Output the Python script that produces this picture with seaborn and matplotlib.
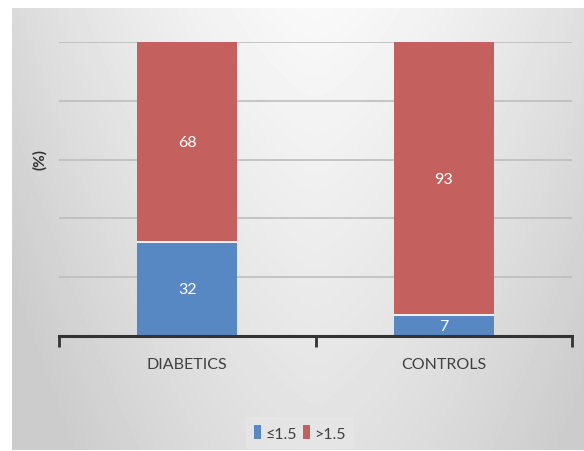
import numpy as np
import pandas as pd
import matplotlib
matplotlib.use("Agg")
import matplotlib.pyplot as plt
from matplotlib.patches import Patch
from matplotlib import font_manager
import seaborn as sns

# Share of patients by ratio group
groups = ["DIABETICS", "CONTROLS"]
low_share = [32, 7]      # ≤1.5
high_share = [68, 93]    # >1.5
legend_labels = ["≤1.5", ">1.5"]

BLUE = "#5788C4"
RED = "#C4615E"

sns.set_theme(style="white")
names = {f.name for f in font_manager.fontManager.ttflist}
font = "Lato" if "Lato" in names else "DejaVu Sans"
plt.rcParams["font.family"] = [font, "DejaVu Sans"]

W, H, DPI = 584, 452, 100
fig = plt.figure(figsize=(W / DPI, H / DPI), dpi=DPI)
fig.patch.set_facecolor("white")

# Gray backdrop, bright at the top centre and darker towards the sides and bottom
bw, bh = W - 12, H - 10
bg = fig.add_axes([12 / W, 1 / H, bw / W, bh / H])
bg.set_axis_off()
yy, xx = np.mgrid[0:bh, 0:bw]
hx = np.abs(xx - bw * 0.53) / (bw * 0.53)
vy = yy / bh
shade = 0.975 - 0.12 * hx ** 1.5 - 0.09 * vy
shade = np.clip(shade, 0.80, 0.98)
bg.imshow(shade, cmap="gray", vmin=0, vmax=1, aspect="auto",
          interpolation="bilinear", extent=[0, 1, 1, 0])
bg.set_xlim(0, 1)
bg.set_ylim(1, 0)

# Plot area
ax = fig.add_axes([59 / W, (H - 337) / H, (572 - 59) / W, (337 - 43) / H])
ax.patch.set_alpha(0)

df = pd.DataFrame({
    "group": groups,
    "low": low_share,
    "high": high_share,
})
df["total"] = df["low"] + df["high"]

sns.barplot(data=df, x="group", y="total", color=RED, saturation=1,
            width=0.39, ax=ax, edgecolor="none", zorder=2)
n_red = len(ax.patches)
sns.barplot(data=df, x="group", y="low", color=BLUE, saturation=1,
            width=0.39, ax=ax, edgecolor="none", zorder=3)

# Thin white seam between the two stacked segments
for p in ax.patches[n_red:]:
    top = p.get_y() + p.get_height()
    ax.plot([p.get_x(), p.get_x() + p.get_width()], [top, top],
            color="white", lw=1.3, zorder=4, solid_capstyle="butt")

ax.set_xlim(-0.5, 1.5)
ax.set_ylim(0, 100)

for y in [20, 40, 60, 80, 100]:
    ax.axhline(y, color="#bdbdbd", lw=1.2, zorder=1)

# Values inside each segment
for i, (lo, hi) in enumerate(zip(df["low"], df["high"])):
    ax.text(i, lo / 2, f"{lo}", ha="center", va="center", color="white",
            fontsize=11.5, zorder=5)
    ax.text(i, lo + hi / 2, f"{hi}", ha="center", va="center", color="white",
            fontsize=11.5, zorder=5)

sns.despine(ax=ax, left=True, top=True, right=True)
ax.spines["bottom"].set_color("#333333")
ax.spines["bottom"].set_linewidth(2.2)
ax.spines["bottom"].set_zorder(6)
ax.set_yticks([])
ax.set_xticks([-0.5, 0.5, 1.5], minor=False)
ax.set_xticklabels([])
ax.tick_params(axis="x", which="major", length=8, width=2, color="#333333",
               direction="out", bottom=True)
ax.set_xticks([0, 1], minor=True)
ax.set_xticklabels(groups, minor=True)
ax.tick_params(axis="x", which="minor", length=0, pad=15, labelsize=11.5,
               labelcolor="#404040")
ax.set_xlabel("")
ax.set_ylabel("")

fig.text(40 / W, 1 - 159 / H, "(%)", rotation=90, ha="center", va="center",
         fontsize=11, color="#333333", fontweight="bold")

handles = [Patch(facecolor=BLUE, edgecolor="none"),
           Patch(facecolor=RED, edgecolor="none")]
leg = fig.legend(handles, legend_labels, loc="center",
                 bbox_to_anchor=(300 / W, 1 - 434 / H), ncol=2,
                 frameon=True, fontsize=11.5, handlelength=0.4,
                 handleheight=1.0, handletextpad=0.3, columnspacing=0.4,
                 borderpad=0.5)
leg.get_frame().set_facecolor("#e8e8e8")
leg.get_frame().set_edgecolor("none")
leg.get_frame().set_alpha(0.6)
for t in leg.get_texts():
    t.set_color("#404040")

fig.savefig("out.png", dpi=DPI)
